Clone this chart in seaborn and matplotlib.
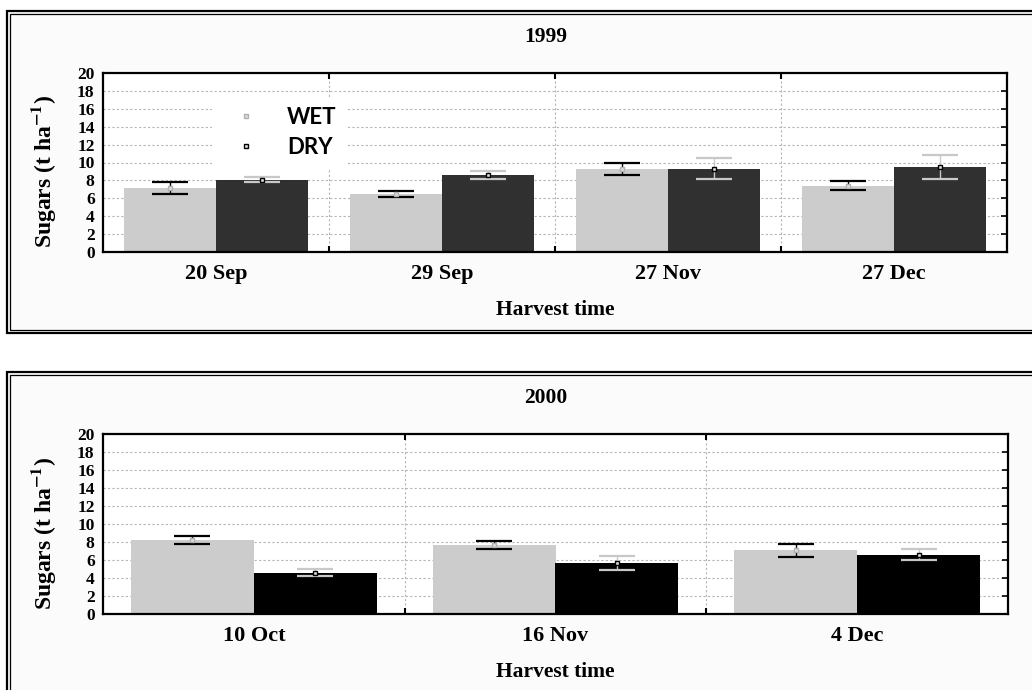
import pandas as pd
import numpy as np
import matplotlib
matplotlib.use("Agg")
import matplotlib.pyplot as plt
from matplotlib.patches import Rectangle
from matplotlib.lines import Line2D
import seaborn as sns

# data (t/ha)
dates_1999 = ['20 Sep', '29 Sep', '27 Nov', '27 Dec']
wet_1999 = [7.2, 6.5, 9.3, 7.4]
dry_1999 = [8.1, 8.6, 9.3, 9.5]
wet_err_1999 = [0.67, 0.30, 0.70, 0.52]
dry_err_1999 = [0.33, 0.42, 1.19, 1.30]

dates_2000 = ['10 Oct', '16 Nov', '4 Dec']
wet_2000 = [8.2, 7.7, 7.1]
dry_2000 = [4.6, 5.7, 6.6]
wet_err_2000 = [0.43, 0.43, 0.72]
dry_err_2000 = [0.35, 0.76, 0.63]

treatments = ['WET', 'DRY']
y_ticks = list(range(0, 21, 2))

sns.set_style('white')
plt.rcParams['font.family'] = ['Liberation Serif', 'DejaVu Serif']
plt.rcParams['font.weight'] = 'bold'
plt.rcParams['text.color'] = 'black'
plt.rcParams['axes.labelcolor'] = 'black'
plt.rcParams['xtick.color'] = 'black'
plt.rcParams['ytick.color'] = 'black'
plt.rcParams['mathtext.fontset'] = 'stix'
plt.rcParams['mathtext.default'] = 'bf'

W, H = 1032, 690
fig = plt.figure(figsize=(W / 100, H / 100), dpi=100)
fig.patch.set_facecolor('white')


def px_rect(x0, y0, x1, y1):
    # pixel box (top-left origin) -> figure fraction
    return (x0 / W, 1 - y1 / H, (x1 - x0) / W, (y1 - y0) / H)


def panel(y0, y1):
    x, y, w, h = px_rect(7, y0, 1045, y1)
    fig.patches.append(Rectangle((x, y), w, h, transform=fig.transFigure,
                                 facecolor='#fbfbfb', edgecolor='black', lw=1.6, zorder=-5))
    x, y, w, h = px_rect(10, y0 + 3, 1045, y1 - 3)
    fig.patches.append(Rectangle((x, y), w, h, transform=fig.transFigure,
                                 facecolor='none', edgecolor='black', lw=0.9, zorder=-5))


panel(11, 333)
panel(372, 710)


def draw(ax, dates, wet, dry, wet_err, dry_err, dry_color, title, title_y):
    df = pd.DataFrame({
        'date': dates * 2,
        'treatment': ['WET'] * len(dates) + ['DRY'] * len(dates),
        'sugar': wet + dry,
    })
    ax.set_facecolor('white')
    sns.barplot(data=df, x='date', y='sugar', hue='treatment', hue_order=treatments,
                palette=['#cccccc', dry_color], saturation=1, width=0.815,
                errorbar=None, linewidth=0, legend=False, ax=ax)
    errs = [wet_err, dry_err]
    ecols = ['black', '#c8c8c8']
    mfaces = ['#dddddd', '#e0e0e0']
    medges = ['#b0b0b0', 'black']
    for cont, err, ec, mf, me in zip(ax.containers, errs, ecols, mfaces, medges):
        xs = [p.get_x() + p.get_width() / 2 for p in cont]
        hs = [p.get_height() for p in cont]
        ax.errorbar(xs, hs, yerr=err, fmt='none', ecolor=ec, elinewidth=1.0,
                    capsize=13, capthick=1.6, zorder=3)
        ax.plot(xs, hs, 's', ms=3.5, mfc=mf, mec=me, mew=1.0, zorder=4)

    n = len(dates)
    ax.set_xlim(-0.5, n - 0.5)
    ax.set_ylim(0, 20)
    ax.set_yticks(y_ticks)
    ax.set_yticklabels([str(t) for t in y_ticks], fontsize=12.5, fontweight='bold')
    ax.set_xticks(range(n))
    ax.set_xticklabels(dates, fontsize=16, fontweight='bold')
    ax.set_xticks([i + 0.5 for i in range(n - 1)], minor=True)
    ax.set_axisbelow(True)
    ax.grid(axis='y', which='major', color='#b5b5b5', ls=(0, (2, 2)), lw=0.8)
    ax.grid(axis='x', which='minor', color='#b5b5b5', ls=(0, (2, 2)), lw=0.8)
    ax.grid(axis='x', which='major', visible=False)
    ax.tick_params(axis='x', which='major', length=0, pad=8.5)
    ax.tick_params(axis='x', which='minor', direction='in', top=True, bottom=True,
                   length=4, width=1.5, color='black')
    ax.tick_params(axis='y', which='major', left=False, right=True, direction='in',
                   length=4, width=1.2, pad=6, labelsize=12.5)
    for s in ax.spines.values():
        s.set_visible(True)
        s.set_color('black')
        s.set_linewidth(1.6)
    ax.set_xlabel('Harvest time', fontsize=15.5, fontweight='bold', labelpad=11.5)
    ax.set_ylabel(r'Sugars (t ha$^{\mathbf{-1}}$)', fontsize=17, fontweight='bold')
    ax.yaxis.set_label_coords(-0.0495, 0.45)
    fig.text(546 / W, 1 - title_y / H, title, fontsize=15.5, fontweight='bold',
             ha='center', va='center')


ax1 = fig.add_axes([103 / W, 1 - 252 / H, 904 / W, 179 / H])
draw(ax1, dates_1999, wet_1999, dry_1999, wet_err_1999, dry_err_1999,
     '#303030', '1999', 37)

ax2 = fig.add_axes([103 / W, 1 - 614 / H, 905 / W, 180 / H])
draw(ax2, dates_2000, wet_2000, dry_2000, wet_err_2000, dry_err_2000,
     '#000000', '2000', 398)

handles = [
    Line2D([], [], ls='none', marker='s', ms=3.5, mfc='#dddddd', mec='#b0b0b0', mew=1.0),
    Line2D([], [], ls='none', marker='s', ms=3.5, mfc='#e0e0e0', mec='black', mew=1.0),
]
leg = ax1.legend(handles, treatments, loc='center', bbox_to_anchor=(0.195, 0.668),
                 frameon=True, fancybox=False, facecolor='white', edgecolor='none',
                 framealpha=1, handlelength=2.2, handletextpad=0.75, labelspacing=0.42,
                 borderpad=0.45, prop={'family': 'Lato', 'size': 16})

fig.savefig('out.png', dpi=100)
